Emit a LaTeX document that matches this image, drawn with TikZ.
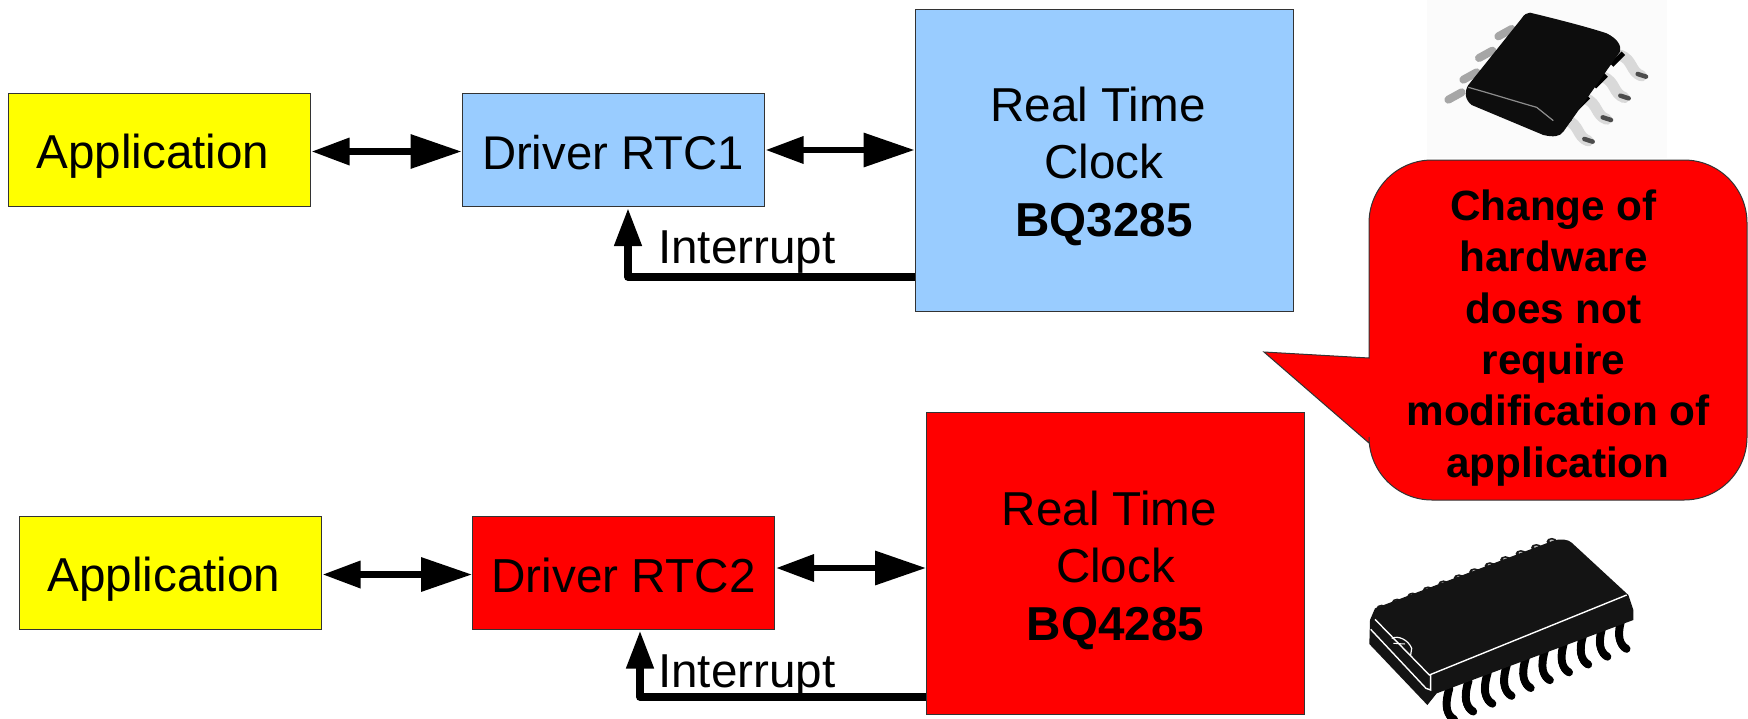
\documentclass[tikz,border=0pt]{standalone}
\usepackage{fontspec}
\setmainfont{Liberation Sans}
\usetikzlibrary{arrows.meta}
\definecolor{rtcblue}{HTML}{99CCFF}
\definecolor{rtcred}{HTML}{FF0000}
\definecolor{appyellow}{HTML}{FFFF00}
\newcommand{\lowertext}[2]{\raisebox{-#1}[\height][\depth]{#2}}
\newcommand{\rtclines}[2]{\lowertext{#1}{\begin{tabular}{@{}c@{}}Real Time\kern12pt\\Clock\\\textbf{#2}\end{tabular}}}
\tikzset{
  x=1pt,y=-1pt,
  boxbase/.style={draw=black!80,line width=1pt,inner sep=0pt,align=center,font=\fontsize{47.6}{57.5}\selectfont},
  appbox/.style={boxbase,fill=appyellow,minimum width=302pt,minimum height=113pt},
  drvbox/.style={boxbase,font=\fontsize{47.3}{57.5}\selectfont,minimum width=302pt,minimum height=113pt},
  rtcbox/.style={boxbase,minimum width=378pt,minimum height=302pt},
  dblarrow/.style={line width=6.5pt,{Triangle[length=38pt,width=26pt]}-{Triangle[length=51pt,width=33pt]},shorten <=1pt},
  intarrow/.style={line width=7.5pt,line join=round,-{Triangle[length=38pt,width=26pt]},shorten >=1pt},
  intlabel/.style={inner sep=0pt,anchor=base west,font=\fontsize{47.6}{57}\selectfont},
  calloutshape/.style={draw=black!80,line width=1pt,fill=rtcred,line join=miter},
  callouttext/.style={inner sep=0pt,align=center,font=\fontsize{42.3}{51.3}\selectfont\bfseries},
}
\begin{document}
\begin{tikzpicture}
\useasboundingbox (0,0) rectangle (1748,718);
% chip 1 (SOIC-8)
\begin{scope}[shift={(1340,0)},scale=0.33333]
  \fill[white!98.5!black] (260,0) rectangle (980,475);
  \foreach \px/\py in {340/295,385/235,432/170,490/105}
    \draw[black!35,line width=8pt,line cap=round] (\px-15,\py+4) -- (\px+25,\py-18);
  \foreach \dx/\dy in {0/0,-52/65,-105/130,-160/195}{
    \begin{scope}[shift={(\dx,\dy)}]
      \draw[black!15,line width=11pt,line cap=round] (840,165) .. controls (880,180) and (870,215) .. (905,228);
      \draw[black!70,line width=4.5pt,line cap=round] (893,222) -- (918,230);
      \draw[black,line width=5pt] (815,195) -- (850,160);
    \end{scope}}
  \fill[black!95] (570,38) .. controls (640,55) and (740,80) .. (800,100)
     .. controls (830,115) and (845,135) .. (840,155) -- (670,395)
     .. controls (660,410) and (640,412) .. (610,405) -- (395,315)
     .. controls (375,300) and (372,275) .. (385,255) -- (545,55) .. controls (552,44) and (560,38) .. (570,38) -- cycle;
  \draw[black!45,line width=1.2pt] (385,262) .. controls (450,280) and (530,305) .. (590,322) -- (640,362);
\end{scope}
% chip 2 (SOIC-24)
\begin{scope}[shift={(1340,520)},scale=0.33333]
  \foreach \i in {0,...,11}{
    \fill[black!90] ({125+\i*46.4},{265-\i*18.2}) ellipse (16 and 11);
    \fill[black!25] ({125+\i*46.4},{263-\i*18.2}) ellipse (7 and 4);
  }
  \foreach \i in {0,...,9}{
    \begin{scope}[shift={({\i*57.5},{-\i*23.5})}]
      \draw[black,line width=8pt,line cap=round] (328,505) .. controls (312,560) and (320,585) .. (342,598);
      \draw[white,line width=3pt] (306,512) .. controls (296,555) and (305,585) .. (322,606);
    \end{scope}}
  \fill[black!92] (90,300) -- (105,265) -- (640,62) .. controls (660,55) and (685,58) .. (695,68)
     -- (865,225) -- (880,270) -- (880,300) -- (290,520) -- (262,555) -- (88,372) -- cycle;
  \draw[white,line width=1.4pt] (105,298) -- (268,465) -- (860,225);
  \draw[white,line width=1.4pt] (92,328) -- (258,505) -- (272,510) -- (272,465);
  \draw[white,line width=1.2pt] (155,355) .. controls (175,345) and (205,360) .. (215,385) -- (212,405);
  \draw[white,line width=1pt] (160,370) -- (195,372);
\end{scope}
% boxes
\node[appbox] (app1) at (159,150) {\lowertext{6pt}{Application\kern12pt}};
\node[drvbox,fill=rtcblue] (drv1) at (613,150) {\lowertext{3pt}{Driver RTC1}};
\node[rtcbox,fill=rtcblue] (rtc1) at (1104,160) {\rtclines{7pt}{BQ3285}};
\node[appbox] (app2) at (170,573) {\lowertext{6pt}{Application\kern12pt}};
\node[drvbox,fill=rtcred,font=\fontsize{47.7}{57.5}\selectfont] (drv2) at (623.5,572.5) {\lowertext{3pt}{Driver RTC2}};
\node[rtcbox,fill=rtcred] (rtc2) at (1115.5,563) {\rtclines{8pt}{BQ4285}};
% connectors
\draw[dblarrow] ([yshift=-1.5pt]app1.east) -- ([yshift=-1.5pt]drv1.west);
\draw[dblarrow] (drv1.east) -- (drv1.east -| rtc1.west);
\draw[dblarrow] ([yshift=-1.5pt]app2.east) -- ([yshift=-1.5pt]app2.east -| drv2.west);
\draw[dblarrow] ([yshift=4.5pt]drv2.east) -- ([yshift=4.5pt]drv2.east -| rtc2.west);
\coordinate (int1) at (628,277);
\coordinate (int2) at (640,697);
\draw[intarrow] (int1 -| rtc1.west) -- (int1) -- (int1 |- drv1.south);
\draw[intarrow] (int2 -| rtc2.west) -- (int2) -- (int2 |- drv2.south);
\node[intlabel] (lab1) at (658,263) {Interrupt};
\node[intlabel] (lab2) at (658,687) {Interrupt};
% callout
\draw[calloutshape] (1369,223) arc[start angle=180,end angle=270,radius=63] -- (1684,160)
  arc[start angle=-90,end angle=0,radius=63] -- (1747,437)
  arc[start angle=0,end angle=90,radius=63] -- (1432,500)
  arc[start angle=90,end angle=180,radius=63] -- (1369,443) -- (1264,352) -- (1369,358) -- cycle;
\node[callouttext] (note) at (1558,338) {Change of\kern9pt\\hardware\kern9pt\\does not\kern9pt\\require\kern9pt\\modification of\\application};
\end{tikzpicture}
\end{document}
